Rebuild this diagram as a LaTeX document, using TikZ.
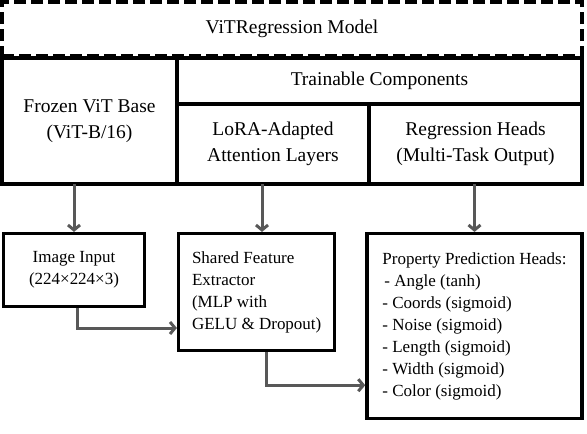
\documentclass[tikz,border=0pt]{standalone}
\usepackage{fontspec}
\setmainfont{Liberation Serif}
\usepackage{tikz}
\usetikzlibrary{shapes,arrows.meta,positioning}
\definecolor{arrowgray}{RGB}{88,88,88}

\begin{document}
\begin{tikzpicture}[
    x=1pt, y=1pt,
    cell/.style={rectangle, draw, line width=3.5pt, outer sep=0pt, inner sep=2pt, align=center, font=\fontsize{19.5}{26}\selectfont},
    header/.style={cell, dashed, dash pattern=on 12pt off 5pt},
    box/.style={rectangle, draw, line width=3.5pt, inner sep=2pt, font=\fontsize{17}{22}\selectfont},
    arrow/.style={line width=3pt, draw=arrowgray, -{Straight Barb[length=5pt,width=12pt]}}
]
\useasboundingbox (0,0) rectangle (587,-434);

% model overview
\node[header, minimum width=580pt, minimum height=54pt] (title) at (292,-29) {ViTRegression Model};
\node[cell, minimum width=175pt, minimum height=126pt] (frozen) at (89.5,-121) {Frozen ViT Base\\(ViT-B/16)};
\node[cell, minimum width=405pt, minimum height=46pt] (trainable) at (379.5,-81) {Trainable Components};
\node[cell, minimum width=192pt, minimum height=80pt] (lora) at (273,-144) {LoRA-Adapted\\Attention Layers};
\node[cell, minimum width=213pt, minimum height=80pt] (heads) at (475.5,-144) {Regression Heads\\(Multi-Task Output)};

% data flow
\node[box, align=center, minimum width=141pt, minimum height=72.6pt] (input) at (74,-270) {Image Input\\(224×224×3)};
\node[box, align=left, minimum width=156pt, minimum height=116.6pt] (shared) at (256.7,-292) {Shared Feature\\Extractor\\(MLP with\\GELU \& Dropout)};
\node[box, align=left, minimum width=215pt, minimum height=185pt] (props) at (474.5,-326.2) {Property Prediction Heads:\\\hspace{2pt}- Angle (tanh)\\- Coords (sigmoid)\\- Noise (sigmoid)\\- Length (sigmoid)\\- Width (sigmoid)\\- Color (sigmoid)};

\draw[arrow] (frozen.south -| input.north) -- (input.north);
\draw[arrow] ([xshift=-11pt]lora.south) -- ([xshift=-11pt]lora.south |- shared.north);
\draw[arrow] (heads.south -| props.north) -- (props.north);
\draw[arrow] ([xshift=3pt]input.south) |- ([yshift=-36pt]shared.west);
\draw[arrow] ([xshift=10pt]shared.south) |- ([yshift=-59pt]props.west);

\end{tikzpicture}
\end{document}
